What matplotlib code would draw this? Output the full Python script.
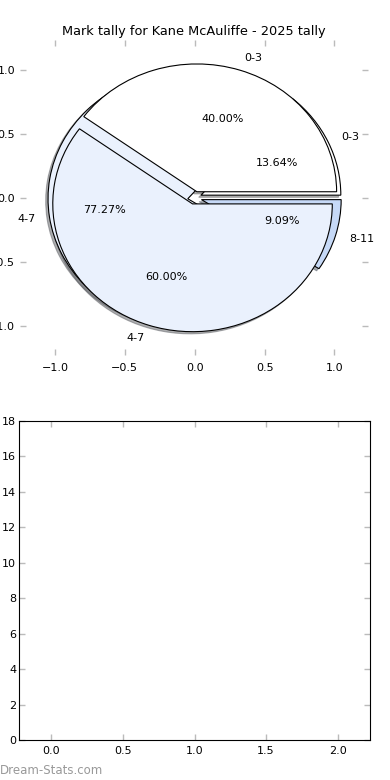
import matplotlib
matplotlib.use('Agg')
import matplotlib.pyplot as plt

# Data
title = "Mark tally for Kane McAuliffe - 2025 tally"
inner_labels = ['0-3', '4-7', '8-11']
inner_values = [13.64, 77.27, 9.09]
inner_colors = ['#ffffff', '#eaf1fd', '#c6d9f7']
outer_labels = ['0-3', '4-7']
outer_values = [40.0, 60.0]
outer_colors = ['#ffffff', '#eaf1fd']
bar_positions = [0, 1, 2]
bar_heights = [0, 0, 0]

plt.rcParams['font.family'] = 'DejaVu Sans'
plt.rcParams['font.size'] = 8

fig = plt.figure(figsize=(3.9, 7.8), dpi=100)

# Top: the overlaid pies (old-style, no equal aspect)
ax1 = fig.add_axes([20/390, 1 - 355/780, 348/390, 315/780])
shadow = {'ox': -0.012, 'oy': -0.012, 'shade': 0.6}
ax1.pie(inner_values, labels=inner_labels, colors=inner_colors,
        explode=[0.05] * 3, autopct='%1.2f%%', shadow=shadow,
        wedgeprops={'linewidth': 0.8, 'edgecolor': 'black'},
        textprops={'fontsize': 8})
ax1.pie(outer_values, labels=outer_labels, colors=outer_colors,
        explode=[0.05] * 2, autopct='%1.2f%%', shadow=shadow,
        wedgeprops={'linewidth': 0.8, 'edgecolor': 'black'},
        textprops={'fontsize': 8})
ax1.set_aspect('auto')
ax1.set_frame_on(False)
ax1.set_xlim(-1.25, 1.24)
ax1.set_ylim(-1.23, 1.235)
ax1.set_xticks([-1.0, -0.5, 0.0, 0.5, 1.0])
ax1.set_yticks([-1.0, -0.5, 0.0, 0.5, 1.0])
ax1.tick_params(direction='in', top=True, right=True, color='#bbbbbb',
                length=4, width=1, labelsize=8, pad=3.5)
ax1.tick_params(axis='x', pad=6)
ax1.set_title(title, fontsize=9.3, pad=3.5)

# Bottom: empty bar axes
ax2 = fig.add_axes([19/390, 1 - 740/780, 351/390, 319/780])
ax2.bar(bar_positions, bar_heights, width=0.45)
ax2.set_xlim(-0.225, 2.225)
ax2.set_ylim(0, 18)
ax2.set_yticks(range(0, 19, 2))
ax2.set_xticks([0.0, 0.5, 1.0, 1.5, 2.0])
ax2.tick_params(direction='in', top=True, right=True, color='#bbbbbb',
                length=4, width=1, labelsize=8, pad=2)
ax2.tick_params(axis='x', pad=4)

fig.text(0.0, 1 - 771/780, 'Dream-Stats.com', fontsize=8.5, color='#999999',
         va='center', ha='left')

fig.savefig('out.png', dpi=100, facecolor='white')
